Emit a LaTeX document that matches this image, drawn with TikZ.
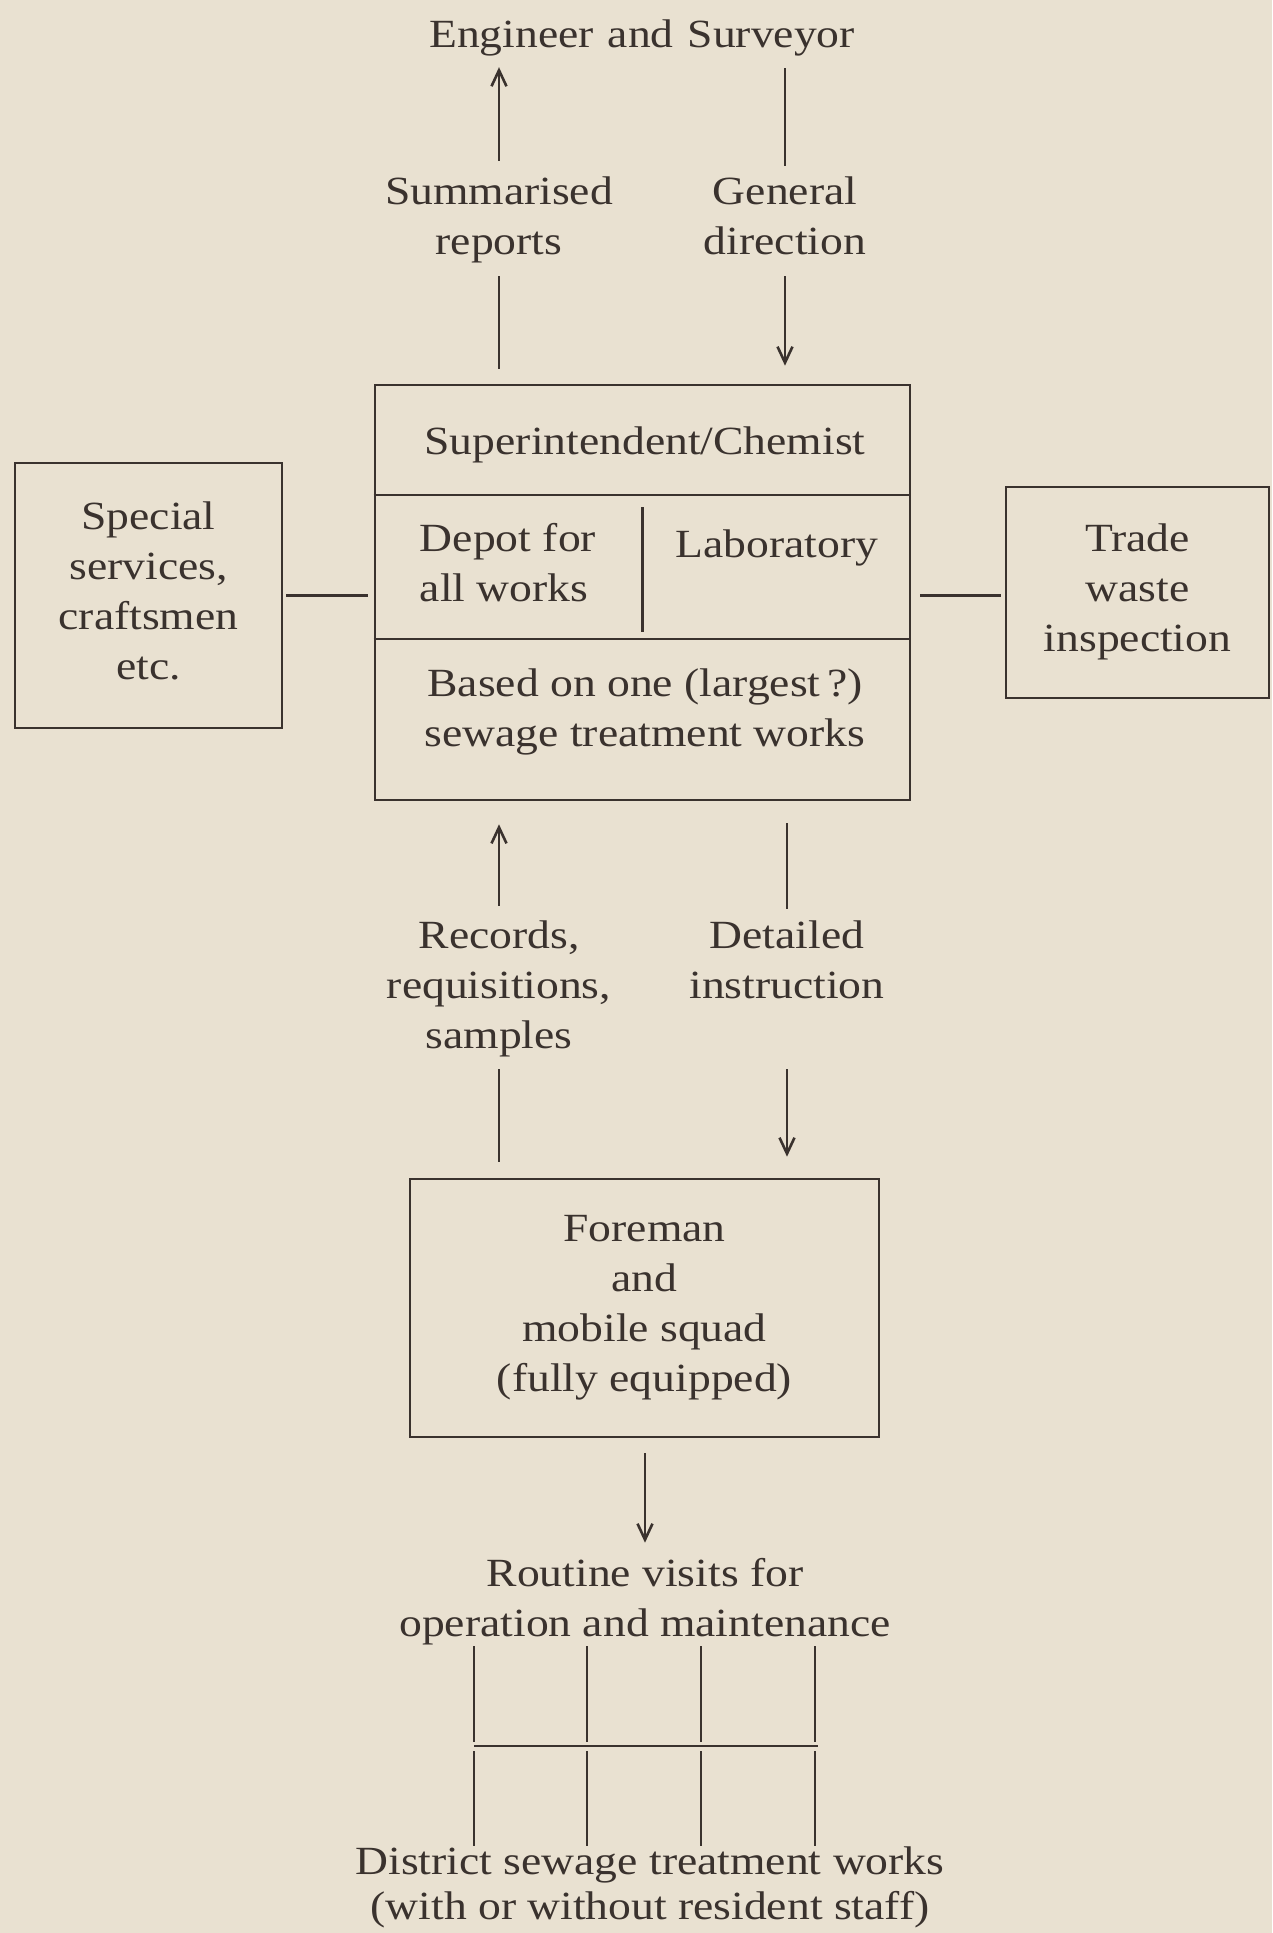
\documentclass[tikz,border=0pt]{standalone}
\usepackage{fontspec}
\setmainfont{Liberation Serif}[FakeStretch=1.14]
\usepackage{xcolor}
\usetikzlibrary{arrows.meta,positioning,calc}
\definecolor{paper}{RGB}{233,225,209}
\definecolor{ink}{RGB}{58,50,46}
\newcommand{\boxstrut}{\rule[-10pt]{0pt}{50pt}}

\begin{document}
\begin{tikzpicture}[
    x=1pt, y=-1pt,
    every node/.style={text=ink, font=\fontsize{40}{50}\selectfont},
    lbl/.style={align=center, inner sep=0pt,
                execute at begin node=\boxstrut, execute at end node=\boxstrut},
    box/.style={lbl, draw=ink, line width=2.6pt},
    link/.style={draw=ink, line width=2.6pt},
    arrow/.style={link, -{Straight Barb[length=16pt, width=15pt]}},
  ]
  \useasboundingbox (0,0) rectangle (1272,1933);
  \fill[paper] (0,0) rectangle (1272,1933);

  \node[lbl] (eng)    at (642,32)  {\spaceskip=14pt\relax Engineer and Surveyor};
  \node[lbl] (sumrep) at (499,221) {Summarised\\reports};
  \node[lbl] (gendir) at (785,221) {General\\direction};

  % central depot, split in three rows
  \node[box, minimum width=535pt, minimum height=415pt] (super) at (642.5,592.5) {};
  \node[lbl] (chief) at (645,439) {Superintendent/Chemist};
  \node[lbl, align=left] (depot) at (508,567) {Depot for\\all works};
  \node[lbl] (lab)   at (777,542) {Laboratory};
  \node[lbl] (based) at (645,713) {Based on one (largest\,?)\\sewage treatment works};
  \coordinate (rowA) at (0,495);
  \coordinate (rowB) at (0,639);

  \node[box, minimum width=267pt, minimum height=265pt] (special) at (148.5,595.5)
    {Special\\services,\\craftsmen\\etc.};
  \node[box, minimum width=263pt, minimum height=211pt] (trade) at (1137.5,592.5)
    {Trade\\waste\\inspection};

  \node[lbl] (records) at (499,990) {Records,\\requisitions,\\samples};
  \node[lbl] (detail)  at (787,965) {Detailed\\instruction};
  \node[box, minimum width=469pt, minimum height=258pt] (foreman) at (644.5,1308)
    {Foreman\\and\\mobile squad\\(fully equipped)};
  \node[lbl] (routine)  at (645,1602) {Routine visits for\\operation and maintenance};
  \node[lbl, font=\fontsize{40}{45}\selectfont] (district) at (650,1888)
    {District sewage treatment works\\(with or without resident staff)};

  % reports up, direction down
  \draw[arrow, shorten <=16pt, shorten >=10pt] (sumrep.north) -- (sumrep.north |- eng.south);
  \draw[link, shorten <=11pt, shorten >=11pt] (gendir.north |- eng.south) -- (gendir.north);
  \draw[link, shorten <=15pt, shorten >=11pt] (sumrep.south |- super.north) -- (sumrep.south);
  \draw[arrow, shorten <=11pt, shorten >=18pt] (gendir.south) -- (gendir.south |- super.north);

  \draw[link] (super.west |- rowA) -- (super.east |- rowA);
  \draw[link] (super.west |- rowB) -- (super.east |- rowB);
  \draw[link, shorten <=12pt, shorten >=7pt] (super.center |- rowA) -- (super.center |- rowB);

  \draw[link, shorten <=3pt, shorten >=6pt] (special.east) -- (special.east -| super.west);
  \draw[link, shorten <=9pt, shorten >=4pt] (special.east -| super.east) -- (special.east -| trade.west);

  \draw[arrow, shorten <=15pt, shorten >=23pt] (records.north) -- (records.north |- super.south);
  \draw[link, shorten <=22pt, shorten >=12pt] (detail.north |- super.south) -- (detail.north);
  \draw[link, shorten <=16pt, shorten >=10pt] (records.south |- foreman.north) -- (records.south);
  \draw[arrow, shorten <=10pt, shorten >=21pt] (detail |- records.south) -- (detail |- foreman.north);

  \draw[arrow, shorten <=15pt, shorten >=15pt] (foreman.south -| routine) -- (routine.north);

  % visits fan out to the district works
  \coordinate (t1) at (474,1746);
  \coordinate (t2) at (587,1746);
  \coordinate (t3) at (701,1746);
  \coordinate (t4) at (815,1746);
  \draw[link] (t1) -- ([xshift=3pt]t4);
  \foreach \i in {1,...,4} {
    \draw[link] (routine.south -| t\i) -- ([yshift=4pt]t\i);
    \draw[link] ([yshift=-5pt]t\i) -- (district.north -| t\i);
  }
\end{tikzpicture}
\end{document}
